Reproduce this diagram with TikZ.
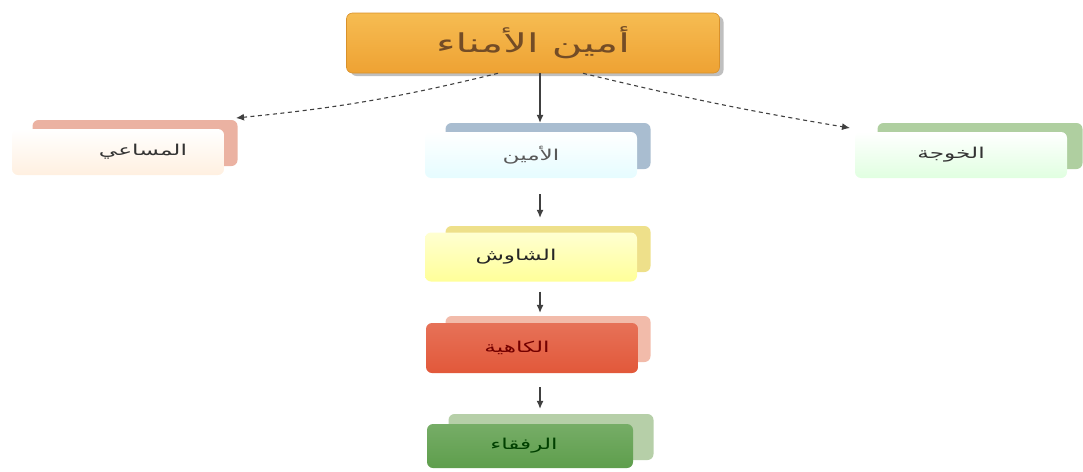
\documentclass[tikz,border=0pt]{standalone}
\usepackage{fontspec}
\usepackage{graphicx}
\newfontfamily\arabicfont[Script=Arabic]{DejaVu Sans}
\TeXXeTstate=1
\usetikzlibrary{arrows.meta}
\definecolor{orangetop}{HTML}{F6BC52}
\definecolor{orangebot}{HTML}{EEA233}
\definecolor{orangeedge}{HTML}{D9912A}
\definecolor{salmonback}{HTML}{EBB2A2}
\definecolor{blueback}{HTML}{A9BDD0}
\definecolor{greenback}{HTML}{AFCFA0}
\definecolor{yellowback}{HTML}{EEE08A}
\definecolor{redback}{HTML}{F2BBAA}
\definecolor{dgreenback}{HTML}{B6CFA8}
\definecolor{redfront}{HTML}{E2583A}
\definecolor{dgreenfront}{HTML}{5E9E4C}
\newcommand{\artext}[1]{\scalebox{1.55}[1]{\beginR #1\endR}}
\begin{document}
\begin{tikzpicture}[x=1pt,y=-1pt,
  frontbox/.style={rounded corners=6pt, minimum width=212pt, minimum height=46pt, inner sep=0pt,
    font=\arabicfont\fontsize{15}{17}\selectfont},
  backbox/.style={rounded corners=6pt, minimum width=205pt, minimum height=46pt, inner sep=0pt},
  arr/.style={-{Latex[length=8pt,width=7pt]}, draw=black!75, line width=1.1pt},
  darr/.style={arr, dash pattern=on 4pt off 3.5pt}]
\useasboundingbox (0,0) rectangle (1083,471);

% top box
\node[rounded corners=6pt, minimum width=373pt, minimum height=60pt, fill=black!25] (topshadow) at (537,46) {};
\node[rounded corners=6pt, minimum width=373pt, minimum height=60pt, inner sep=0pt,
  top color=orangetop, bottom color=orangebot, draw=orangeedge, line width=0.6pt,
  font=\arabicfont\fontsize{26}{30}\selectfont, text=brown!60!black] (top) at (533,43) {\scalebox{1.6}[1]{\beginR أمين الأمناء\endR}};

% back boxes
\node[backbox, fill=salmonback] (lb) at (135,143) {};
\node[backbox, fill=blueback] (mb) at (548,146) {};
\node[backbox, fill=greenback] (rb) at (980,146) {};
\node[backbox, fill=yellowback] (yb) at (548,249) {};
\node[backbox, fill=redback] (cb) at (548,339) {};
\node[backbox, fill=dgreenback] (gb) at (551,437) {};

% front boxes
\node[frontbox, top color=white, bottom color=orange!12, text=black!80] (left) at (118,152) {\hspace*{50pt}\artext{المساعي}};
\node[frontbox, top color=white, bottom color=blue!12!cyan!10, text=black!65] (mid) at (531,155) {\artext{الأمين}};
\node[frontbox, top color=white, bottom color=green!12, text=black!80] (right) at (961,155) {\artext{الخوجة}\hspace*{20pt}};
\node[frontbox, top color=yellow!18, bottom color=yellow!40, text=black!85, minimum height=49pt] (yel) at (531,257) {\artext{الشاوش}\hspace*{30pt}};
\node[frontbox, top color=redfront!85, bottom color=redfront, text=red!45!black, minimum height=50pt] (red) at (532,348) {\artext{الكاهية}\hspace*{30pt}};
\node[frontbox, top color=dgreenfront!85, bottom color=dgreenfront, text=green!25!black, minimum height=44pt, minimum width=206pt] (grn) at (530,446) {\artext{الرفقاء}\hspace*{12pt}};

% connectors
\coordinate (lt) at (236,118);
\coordinate (rt) at (850,128);
\draw[arr] ([xshift=7pt]top.south) -- ([xshift=7pt]top.south |- mb.north);
\draw[darr] ([xshift=-35pt]top.south) to[bend left=4] (lt);
\draw[darr] ([xshift=50pt]top.south) to[bend right=2] (rt);
\draw[arr, shorten <=16pt, shorten >=8pt] ([xshift=9pt]mid.south) -- ([xshift=9pt]mid.south |- yb.north);
\draw[arr, shorten <=10pt, shorten >=3pt] ([xshift=9pt]yel.south) -- ([xshift=9pt]yel.south |- cb.north);
\draw[arr, shorten <=14pt, shorten >=5pt] ([xshift=8pt]red.south) -- ([xshift=8pt]red.south |- gb.north);
\end{tikzpicture}
\end{document}
